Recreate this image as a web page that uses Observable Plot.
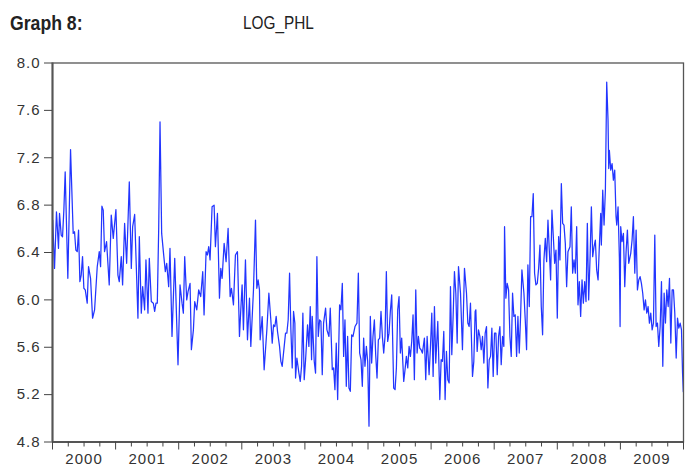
<!DOCTYPE html>
<html>
<head>
<meta charset="utf-8">
<script src="https://cdn.jsdelivr.net/npm/d3@7"></script>
<script src="https://cdn.jsdelivr.net/npm/@observablehq/plot@0.6"></script>
<style>
  html, body { margin: 0; padding: 0; background: #fff; }
  #wrap { position: relative; width: 690px; height: 470px; overflow: hidden; font-family: "Liberation Sans", Arial, sans-serif; }
  #g8 { position: absolute; left: 10px; top: 12px; font-size: 21px; line-height: 21px; font-weight: bold; color: #222; transform: scaleX(0.84); transform-origin: left top; white-space: nowrap; }
  #ttl { position: absolute; left: 243px; top: 14px; font-size: 18.5px; line-height: 18.5px; color: #222; transform: scaleX(0.83); transform-origin: left top; white-space: nowrap; }
  #chart { position: absolute; left: 0; top: 40px; }
  #chart svg text { letter-spacing: 1px; }
</style>
</head>
<body>
<div id="wrap">
  <div id="g8">Graph 8:</div>
  <div id="ttl">LOG_PHL</div>
  <div id="chart"></div>
</div>
<script>
const years = [
2000.003,2000.032,2000.063,2000.095,2000.111,2000.138,2000.159,2000.180,2000.201,2000.243,
2000.286,2000.328,2000.349,2000.370,2000.392,2000.413,2000.434,2000.455,2000.476,2000.497,
2000.519,2000.550,2000.571,2000.603,2000.635,2000.667,2000.709,2000.741,2000.762,2000.783,
2000.804,2000.825,2000.857,2000.899,2000.931,2000.963,2001.005,2001.037,2001.058,2001.090,
2001.111,2001.143,2001.175,2001.217,2001.249,2001.270,2001.302,2001.323,2001.354,2001.376,
2001.407,2001.429,2001.460,2001.481,2001.513,2001.534,2001.566,2001.598,2001.619,2001.640,
2001.661,2001.683,2001.704,2001.730,2001.757,2001.788,2001.810,2001.841,2001.862,2001.894,
2001.937,2001.989,2002.021,2002.053,2002.074,2002.095,2002.127,2002.148,2002.180,2002.201,
2002.233,2002.254,2002.286,2002.317,2002.349,2002.381,2002.402,2002.434,2002.455,2002.476,
2002.497,2002.529,2002.561,2002.582,2002.614,2002.646,2002.667,2002.688,2002.720,2002.751,
2002.783,2002.815,2002.836,2002.868,2002.899,2002.931,2002.963,2002.984,2003.005,2003.026,
2003.058,2003.090,2003.122,2003.143,2003.185,2003.217,2003.238,2003.259,2003.280,2003.291,
2003.323,2003.354,
2003.397,2003.429,2003.460,2003.482,2003.503,2003.524,2003.545,2003.566,2003.598,2003.619,
2003.640,2003.672,2003.693,2003.714,2003.735,2003.757,2003.778,2003.799,2003.820,2003.841,
2003.852,2003.873,2003.905,2003.926,2003.947,2003.968,2003.989,2004.011,2004.042,2004.063,
2004.085,2004.106,2004.116,2004.148,2004.169,2004.190,2004.212,2004.233,2004.254,2004.275,
2004.296,2004.328,2004.349,2004.381,2004.402,2004.434,2004.455,2004.476,2004.497,2004.519,
2004.550,2004.571,2004.593,2004.614,2004.635,2004.656,2004.677,2004.698,2004.720,2004.741,
2004.762,2004.794,2004.825,2004.847,2004.868,2004.889,2004.910,2004.931,2004.952,2004.974,
2004.995,2005.016,2005.037,2005.058,2005.079,2005.101,2005.122,2005.143,2005.164,2005.185,
2005.206,2005.228,2005.249,2005.270,2005.291,2005.312,2005.333,2005.354,2005.376,2005.407,
2005.429,2005.450,2005.471,2005.492,2005.513,2005.534,2005.566,2005.587,2005.608,2005.630,
2005.651,2005.672,2005.693,2005.714,2005.735,2005.757,2005.778,2005.799,2005.820,2005.841,
2005.862,2005.894,2005.915,2005.937,2005.968,2005.989,2006.011,2006.032,2006.053,2006.074,
2006.106,2006.138,2006.159,2006.180,2006.201,2006.222,2006.243,2006.265,2006.286,2006.307,
2006.328,2006.349,2006.370,2006.392,2006.413,2006.434,2006.466,2006.497,2006.529,2006.561,
2006.582,2006.603,2006.624,2006.656,2006.677,2006.698,
2006.709,2006.730,2006.751,2006.773,2006.794,2006.815,2006.836,2006.857,2006.878,2006.900,
2006.921,2006.942,2006.963,2006.984,2007.005,2007.027,2007.048,2007.069,2007.090,2007.111,
2007.132,2007.153,2007.164,2007.185,2007.206,2007.228,2007.249,2007.270,2007.291,2007.312,
2007.333,2007.355,2007.376,2007.397,2007.418,2007.439,2007.471,2007.492,2007.513,2007.534,
2007.556,2007.577,2007.598,2007.619,2007.640,2007.661,2007.683,2007.704,2007.725,2007.746,
2007.767,2007.788,2007.810,2007.831,2007.852,2007.873,2007.894,2007.915,2007.937,2007.958,
2007.979,2008.000,2008.021,2008.042,2008.064,2008.085,2008.106,2008.127,2008.148,2008.169,
2008.201,2008.222,2008.243,2008.265,2008.286,2008.307,2008.328,2008.349,2008.370,2008.392,
2008.413,2008.434,2008.455,2008.476,2008.497,2008.519,2008.540,2008.561,2008.582,2008.603,
2008.624,2008.646,2008.667,2008.688,2008.698,2008.720,2008.741,2008.762,2008.783,2008.804,
2008.815,2008.825,2008.847,2008.868,2008.889,2008.910,2008.931,2008.942,2008.963,2008.984,
2008.995,2009.005,2009.026,2009.048,2009.069,2009.090,2009.111,2009.132,2009.164,2009.185,
2009.206,2009.228,2009.249,2009.270,2009.291,2009.312,2009.333,2009.354,2009.376,2009.397,
2009.418,2009.439,2009.460,2009.481,2009.503,2009.524,2009.545,2009.566,2009.587,2009.608,
2009.630,2009.651,2009.672,2009.693,2009.714,2009.735,2009.757,2009.778,2009.799,2009.820,
2009.841,2009.862,2009.884,2009.905,2009.926,2009.947,2009.968,2009.985,2009.997
];
const logPhl = [
6.674,6.266,6.744,6.435,6.730,6.547,6.533,6.758,7.080,6.182,
7.269,6.561,6.575,6.421,6.407,6.589,6.154,6.210,6.365,6.098,
6.084,5.972,6.280,6.182,5.845,5.916,6.280,6.407,6.280,6.791,
6.758,6.407,6.491,6.126,6.716,6.519,6.763,6.210,6.154,6.365,
6.126,6.645,6.309,6.996,6.266,6.617,6.721,6.365,5.845,6.533,
5.888,6.112,5.916,6.337,5.888,6.351,5.986,5.972,5.902,5.972,
5.972,6.603,7.502,6.561,6.407,6.238,6.309,6.112,6.435,5.691,
6.351,5.452,6.126,5.972,5.888,6.365,6.000,6.070,6.140,5.579,
5.747,5.986,5.916,6.084,6.028,6.238,5.873,6.407,6.379,6.449,
6.337,6.786,6.800,6.449,6.730,6.014,6.266,6.182,6.477,6.323,
6.603,6.028,6.098,5.958,6.379,6.407,5.691,5.916,6.126,5.747,
6.337,5.663,6.014,5.607,6.084,6.674,6.098,6.168,6.084,5.663,
5.859,5.410,
5.747,6.056,5.832,5.635,5.789,5.775,5.860,5.733,5.607,5.481,
5.439,5.607,5.719,5.719,5.832,6.225,5.747,5.425,5.902,5.804,
5.340,5.509,5.382,5.312,5.439,5.888,5.326,5.495,5.789,5.607,
5.944,5.495,5.860,5.481,5.382,6.365,5.691,5.832,5.818,5.368,
5.804,5.930,5.747,5.691,5.930,5.411,5.425,5.242,5.635,5.158,
5.958,5.916,6.140,5.523,5.832,5.270,5.691,5.256,5.228,5.705,
5.691,5.775,5.804,6.225,5.551,5.495,5.270,5.677,5.439,5.607,
5.481,4.933,5.860,5.467,5.691,5.832,5.537,5.340,5.663,5.677,
5.902,5.691,5.551,5.691,6.239,5.649,5.719,5.902,6.042,5.256,
5.242,5.425,5.916,6.028,5.551,5.677,5.312,5.411,5.523,5.425,
5.607,5.523,5.649,5.874,5.326,6.084,5.551,5.691,5.593,5.579,
5.551,5.677,5.326,5.691,5.368,5.593,5.888,5.354,5.944,5.467,
5.818,5.158,5.495,5.481,5.733,5.158,5.565,5.326,5.298,6.112,
5.537,5.860,6.239,6.056,5.635,6.281,6.056,5.579,6.267,6.056,
5.804,5.775,5.972,5.354,5.481,5.902,
5.916,5.565,5.747,5.691,5.579,5.691,5.467,5.719,5.775,5.256,
5.495,5.523,5.761,5.354,5.719,5.719,5.368,5.691,5.775,5.453,
5.691,5.607,6.618,6.014,6.140,6.084,5.691,5.523,6.056,5.860,
5.874,5.523,5.860,5.551,5.860,6.253,6.056,5.832,5.579,6.295,
5.944,6.702,6.702,6.898,6.225,6.126,6.140,6.267,6.463,5.944,
5.705,6.337,6.519,6.323,6.674,6.421,6.168,6.758,6.533,6.309,
6.421,5.846,6.533,6.337,6.982,6.646,6.632,6.477,6.112,6.407,
6.449,6.786,6.225,6.337,6.225,6.618,5.958,6.154,5.860,6.168,
5.972,6.154,5.986,6.646,6.000,6.351,6.786,6.365,6.449,6.505,
6.253,6.168,6.463,6.730,6.463,6.926,6.632,6.926,7.839,7.516,
7.109,7.263,7.095,7.151,7.011,7.095,6.702,6.632,6.786,6.351,
5.775,6.618,6.491,6.561,6.112,6.407,6.589,6.309,6.393,6.505,
6.702,6.225,6.589,6.084,6.168,6.196,6.140,6.056,5.916,6.000,
5.888,5.944,5.804,5.888,5.747,5.804,6.547,5.775,5.804,5.607,
5.775,6.154,5.439,6.056,5.804,6.084,5.944,6.182,5.635,6.084,
6.084,5.888,5.509,5.846,5.761,5.804,5.747,5.382,5.225
];
const yTicks = [4.8, 5.2, 5.6, 6.0, 6.4, 6.8, 7.2, 7.6, 8.0];
const yearLabels = [2000, 2001, 2002, 2003, 2004, 2005, 2006, 2007, 2008, 2009];

const data = years.map((t, i) => ({t, v: logPhl[i]}));
const yearBounds = [...yearLabels, yearLabels[yearLabels.length - 1] + 1];
const quarterTicks = yearLabels.flatMap(y => [y + 0.25, y + 0.5, y + 0.75]);
const labelPos = yearLabels.map(y => y + 0.5);

const chart = Plot.plot({
  width: 690,
  height: 430,
  marginTop: 22.5,
  marginBottom: 28.5,
  marginLeft: 52,
  marginRight: 7,
  x: {domain: [yearBounds[0], yearBounds[yearBounds.length - 1]]},
  y: {domain: [yTicks[0], yTicks[yTicks.length - 1]]},
  style: {fontFamily: "'Liberation Sans', Arial, sans-serif", fontSize: "15px", color: "#444", background: "#fff", overflow: "visible"},
  marks: [
    Plot.line(data, {x: "t", y: "v", stroke: "#2235ff", strokeWidth: 1.25}),
    Plot.frame({stroke: "#555", strokeWidth: 1.3}),
    Plot.ruleX([yearBounds[0]], {stroke: "#555", strokeWidth: 2}),
    Plot.ruleY([yTicks[0]], {stroke: "#555", strokeWidth: 2}),
    Plot.axisY({ticks: yTicks, tickSize: 8, tickPadding: 4, tickFormat: d => d.toFixed(1), label: null, fill: "#333"}),
    Plot.axisX({ticks: quarterTicks, tickSize: 5, tickFormat: () => "", label: null}),
    Plot.axisX({ticks: yearBounds, tickSize: 8, tickFormat: () => "", label: null}),
    Plot.axisX({ticks: labelPos, tickSize: 0, tickPadding: 11, tickFormat: d => String(Math.floor(d)), label: null, fill: "#333"})
  ]
});
document.getElementById("chart").appendChild(chart);
</script>
</body>
</html>
